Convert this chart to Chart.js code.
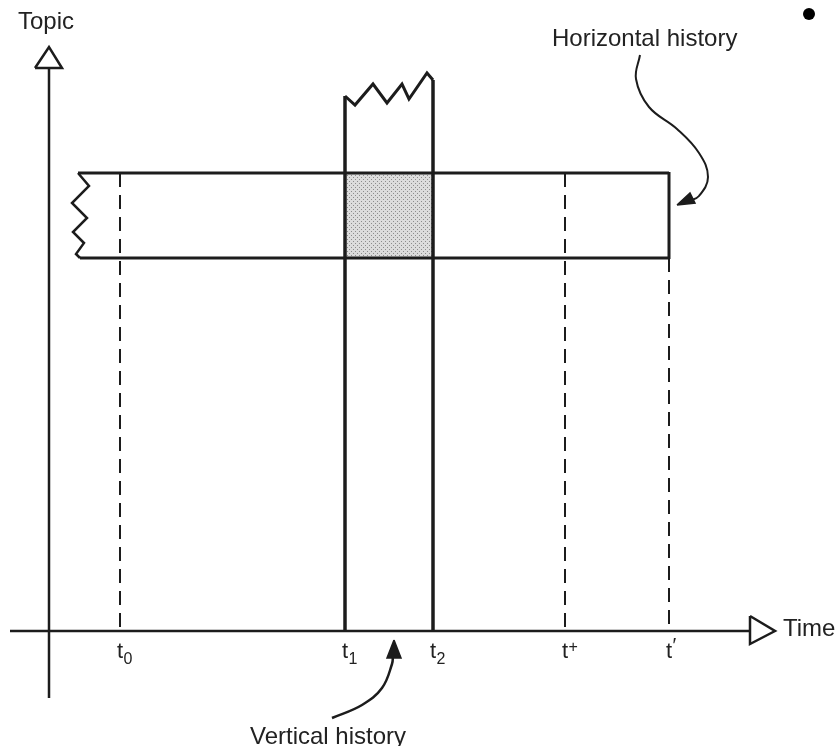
<!DOCTYPE html>
<html><head><meta charset="utf-8">
<script src="https://cdn.jsdelivr.net/npm/chart.js@4"></script>
<style>html,body{margin:0;padding:0;background:#fff}#wrap{width:835px;height:746px}</style>
</head><body><div id="wrap"><canvas id="c" width="835" height="746"></canvas></div>
<script>
// ---- data (diagram units: time to the right, topic upward) ----
const timeNames = ['t', 't', 't', 't', 't'];
const timeMarks = ['0', '1', '2', '+', '\u2032'];
const timeMarkKind = ['sub', 'sub', 'sub', 'sup', 'sup'];
const timeValues = [71, 296, 384, 516, 620];
const bandTopic = [373, 458];            // topic range of the horizontal history
const xAxisRange = [-39, 701];
const yAxisRange = [-67, 563];
const leftZigzagX = [29, 40, 23, 38, 24, 35, 27, 31];
const leftZigzagY = [458, 445, 428, 413, 399, 388, 377, 373];
const topZigzagX = [296, 306, 324, 338, 353, 360, 378, 384];
const topZigzagY = [535, 526, 547, 528, 547, 532, 558, 551];
const hArrowX = [591, 587, 600, 628, 650, 659, 650, 640];
const hArrowY = [576, 552, 524, 502, 478, 454, 435, 430];
const hHeadX = [628, 641, 646];
const hHeadY = [426, 438, 428];
const vArrowX = [283, 313, 333, 343, 344];
const vArrowY = [-87, -74, -57, -33, -24];
const vHeadX = [345, 338, 352];
const vHeadY = [-9, -27, -27];
const xHeadX = [701, 701, 726];
const xHeadY = [15, -13, 0];
const yHeadX = [-14, 13, 0];
const yHeadY = [563, 563, 584];
const dotPoint = [760, 617];
const axisTitles = ['Topic', 'Time'];
const annotationTexts = ['Horizontal history', 'Vertical history'];

// ---- helpers ----
const INK = '#1c1c1c';
function pts(xs, ys) { return xs.map((x, i) => ({ x: x, y: ys[i] })); }
function closed(xs, ys) { const p = pts(xs, ys); p.push(p[0]); return p; }
function line(data, opts) {
  return Object.assign({ data: data, showLine: true, pointRadius: 0, borderColor: INK,
    borderWidth: 3, fill: false, tension: 0, borderCapStyle: 'butt', order: 1 }, opts || {});
}
// dotted screen pattern
const pc = document.createElement('canvas'); pc.width = 4; pc.height = 4;
const pctx = pc.getContext('2d');
pctx.fillStyle = '#dcdcdc'; pctx.fillRect(0, 0, 4, 4);
pctx.fillStyle = '#8c8c8c'; pctx.fillRect(1, 1, 1, 1); pctx.fillRect(3, 3, 1, 1);
const screen = pctx.createPattern(pc, 'repeat');

const tL = timeValues[1], tR = timeValues[2];
const [bLow, bHigh] = bandTopic;
const dash = [14, 8];
const datasets = [
  // shaded overlap
  line(closed([tL, tR, tR, tL], [bHigh, bHigh, bLow, bLow]), { borderWidth: 0, borderColor: 'rgba(0,0,0,0)', fill: 'shape', backgroundColor: screen, order: 9 }),
  // axes
  line(pts(xAxisRange, [0, 0]), { borderWidth: 2.5 }),
  line(pts([0, 0], yAxisRange), { borderWidth: 2.5 }),
  line(closed(xHeadX, xHeadY), { borderWidth: 2.5, borderJoinStyle: 'miter' }),
  line(closed(yHeadX, yHeadY), { borderWidth: 2.5, borderJoinStyle: 'miter' }),
  // horizontal history band
  line(pts([leftZigzagX[0], timeValues[4]], [bHigh, bHigh])),
  line(pts([leftZigzagX[leftZigzagX.length - 1], timeValues[4]], [bLow, bLow])),
  line(pts([timeValues[4], timeValues[4]], [bHigh + 1, bLow - 1]), { borderWidth: 3 }),
  line(pts(leftZigzagX, leftZigzagY), { borderWidth: 2.5 }),
  // vertical history band
  line(pts([tL, tL], [0, topZigzagY[0]]), { borderWidth: 3.5 }),
  line(pts([tR, tR], [0, topZigzagY[topZigzagY.length - 1]]), { borderWidth: 3.5 }),
  line(pts(topZigzagX, topZigzagY), { borderWidth: 3 }),
  // dashed time marks
  line(pts([timeValues[0], timeValues[0]], [bHigh, 0]), { borderWidth: 2, borderDash: dash }),
  line(pts([timeValues[3], timeValues[3]], [bHigh, 0]), { borderWidth: 2, borderDash: dash }),
  line(pts([timeValues[4], timeValues[4]], [bLow, 0]), { borderWidth: 2, borderDash: dash }),
  // annotation arrows
  line(pts(hArrowX, hArrowY), { borderWidth: 2, tension: 0.4 }),
  line(closed(hHeadX, hHeadY), { borderWidth: 1.5, fill: 'shape', backgroundColor: INK }),
  line(pts(vArrowX, vArrowY), { borderWidth: 2.5, tension: 0.4 }),
  line(closed(vHeadX, vHeadY), { borderWidth: 1.5, fill: 'shape', backgroundColor: INK }),
  // bullet
  { data: [{ x: dotPoint[0], y: dotPoint[1] }], showLine: false, pointRadius: 6, pointBackgroundColor: '#000', pointBorderWidth: 0, order: 0 }
];

const FONT = '"Liberation Sans", Arial, Helvetica, sans-serif';
const textPlugin = {
  id: 'texts',
  afterDatasetsDraw(chart) {
    const ctx = chart.ctx, sx = chart.scales.x, sy = chart.scales.y;
    const X = v => sx.getPixelForValue(v), Y = v => sy.getPixelForValue(v);
    ctx.save();
    ctx.fillStyle = '#222';
    ctx.font = '24px ' + FONT;
    ctx.textBaseline = 'alphabetic';
    ctx.textAlign = 'center';
    ctx.fillText(axisTitles[0], X(-3), Y(602));
    ctx.textAlign = 'left';
    ctx.fillText(axisTitles[1], X(734), Y(-5));
    ctx.fillText(annotationTexts[0], X(503), Y(585));
    ctx.textAlign = 'center';
    ctx.fillText(annotationTexts[1], X(279), Y(-113));
    // time labels
    timeValues.forEach((v, i) => {
      ctx.font = '22px ' + FONT;
      ctx.textAlign = 'center';
      const px = X(v);
      ctx.fillText(timeNames[i], px, Y(-27));
      const w = ctx.measureText(timeNames[i]).width;
      ctx.textAlign = 'left';
      if (timeMarkKind[i] === 'sub') {
        ctx.font = '16px ' + FONT;
        ctx.fillText(timeMarks[i], px + w / 2 + 0.5, Y(-33));
      } else {
        ctx.font = (timeMarks[i] === '+' ? '16px ' : '20px ') + FONT;
        ctx.fillText(timeMarks[i], px + w / 2 + 0.5, Y(-21));
      }
    });
    ctx.restore();
  }
};

new Chart(document.getElementById('c'), {
  type: 'scatter',
  data: { datasets: datasets },
  options: {
    responsive: false,
    animation: false,
    layout: { padding: 0, autoPadding: false },
    plugins: { legend: { display: false }, tooltip: { enabled: false } },
    scales: {
      x: { type: 'linear', min: -49, max: 786, display: false },
      y: { type: 'linear', min: -115, max: 631, display: false }
    }
  },
  plugins: [textPlugin]
});
</script>
</body></html>
